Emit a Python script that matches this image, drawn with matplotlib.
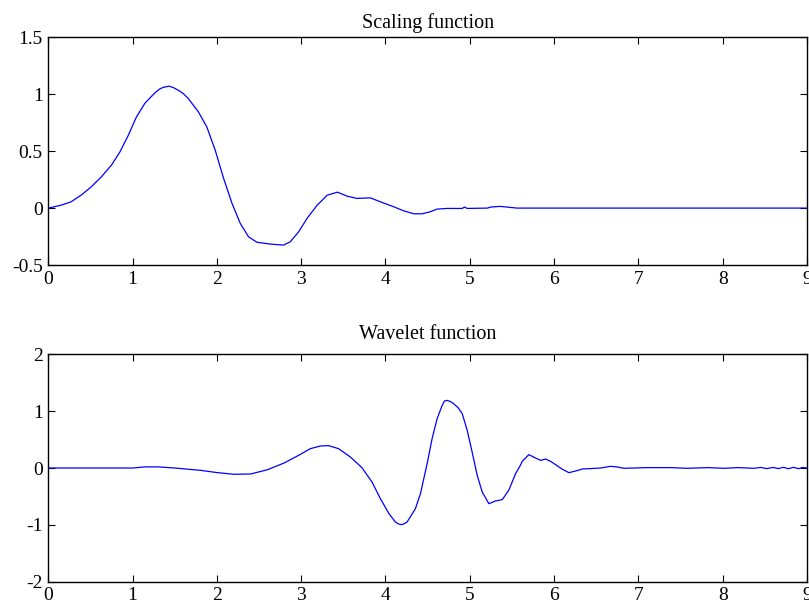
import matplotlib
matplotlib.use('Agg')
import matplotlib.pyplot as plt

# scaling function
phi_x = [0, 0.155, 0.27, 0.39, 0.51, 0.63, 0.75, 0.85, 0.95, 1.045, 1.145, 1.264,
         1.323, 1.362, 1.43, 1.48, 1.54, 1.60, 1.66, 1.78, 1.88, 1.98, 2.08, 2.18,
         2.277, 2.375, 2.475, 2.633, 2.79, 2.87, 2.97, 3.07, 3.19, 3.31, 3.43, 3.545,
         3.66, 3.82, 3.94, 4.10, 4.216, 4.335, 4.435, 4.533, 4.61, 4.73, 4.91, 4.937,
         4.97, 5.21, 5.245, 5.36, 5.56, 6.0, 7.0, 8.0, 9.0]
phi_y = [0, 0.026, 0.055, 0.114, 0.187, 0.275, 0.378, 0.494, 0.641, 0.80, 0.92, 1.012,
         1.047, 1.06, 1.071, 1.06, 1.036, 1.007, 0.963, 0.846, 0.714, 0.509, 0.26, 0.04,
         -0.134, -0.252, -0.30, -0.316, -0.325, -0.296, -0.208, -0.09, 0.026, 0.114, 0.14, 0.105,
         0.085, 0.09, 0.055, 0.011, -0.024, -0.05, -0.05, -0.032, -0.009, -0.003, -0.003, 0.009,
         -0.003, 0, 0.009, 0.015, 0, 0, 0, 0, 0]

# wavelet function
psi_x = [0, 0.5, 1.0, 1.15, 1.3, 1.5, 1.8, 2.0, 2.2, 2.4, 2.6, 2.8, 2.99, 3.108,
         3.227, 3.325, 3.444, 3.583, 3.72, 3.84, 3.94, 4.04, 4.117, 4.15, 4.185, 4.216,
         4.256, 4.355, 4.415, 4.494, 4.553, 4.613, 4.672, 4.70, 4.73, 4.77, 4.81, 4.862,
         4.91, 4.97, 5.028, 5.088, 5.147, 5.226, 5.305, 5.385, 5.463, 5.543, 5.60, 5.622,
         5.70, 5.78, 5.84, 5.90, 5.958, 6.00, 6.10, 6.176, 6.255, 6.335, 6.434, 6.55,
         6.67, 6.75, 6.83, 7.107, 7.38, 7.58, 7.82, 8.02, 8.18, 8.37, 8.45, 8.52, 8.6,
         8.66, 8.72, 8.78, 8.84, 8.9, 8.95, 9.0]
psi_y = [0, 0, 0, 0.02, 0.02, 0, -0.04, -0.08, -0.11, -0.105, -0.03, 0.09, 0.24, 0.34,
         0.387, 0.394, 0.34, 0.194, 0.007, -0.246, -0.54, -0.80, -0.95, -0.98, -0.996, -0.985,
         -0.95, -0.715, -0.45, 0.077, 0.517, 0.87, 1.10, 1.18, 1.19, 1.17, 1.13, 1.06,
         0.957, 0.66, 0.28, -0.128, -0.42, -0.627, -0.58, -0.556, -0.39, -0.1, 0.047, 0.118,
         0.235, 0.176, 0.135, 0.158, 0.118, 0.077, -0.023, -0.082, -0.053, -0.017, -0.01, 0,
         0.03, 0.018, -0.005, 0.007, 0.007, -0.005, 0.007, -0.005, 0.007, -0.005, 0.01, -0.01, 0.01,
         -0.01, 0.012, -0.012, 0.012, -0.012, 0.01, 0]

plt.rcParams['font.family'] = ['Liberation Serif', 'DejaVu Serif']

fig = plt.figure(figsize=(8.09, 6.03), dpi=100)

ax1 = fig.add_axes([0.0597, 0.5605, 0.9378, 0.3776])
ax1.plot(phi_x, phi_y, color='#0000ff', lw=0.9)
ax1.set_xlim(0, 9)
ax1.set_ylim(-0.5, 1.5)
ax1.set_xticks(range(10))
ax1.set_yticks([-0.5, 0, 0.5, 1, 1.5])
ax1.set_yticklabels(['-0.5', '0', '0.5', '1', '1.5'])
ax1.set_title('Scaling function', fontsize=14.5, pad=7)

ax2 = fig.add_axes([0.0597, 0.0353, 0.9378, 0.3771])
ax2.plot(psi_x, psi_y, color='#0000ff', lw=0.9)
ax2.set_xlim(0, 9)
ax2.set_ylim(-2, 2)
ax2.set_xticks(range(10))
ax2.set_yticks([-2, -1, 0, 1, 2])
ax2.set_yticklabels(['-2', '-1', '0', '1', '2'])
ax2.set_title('Wavelet function', fontsize=14.5, pad=11)

for ax in (ax1, ax2):
    ax.tick_params(direction='in', top=True, right=True, length=5, width=0.8,
                   labelsize=14, pad=4)
    for s in ax.spines.values():
        s.set_linewidth(1.0)

fig.savefig('out.png', dpi=100)
